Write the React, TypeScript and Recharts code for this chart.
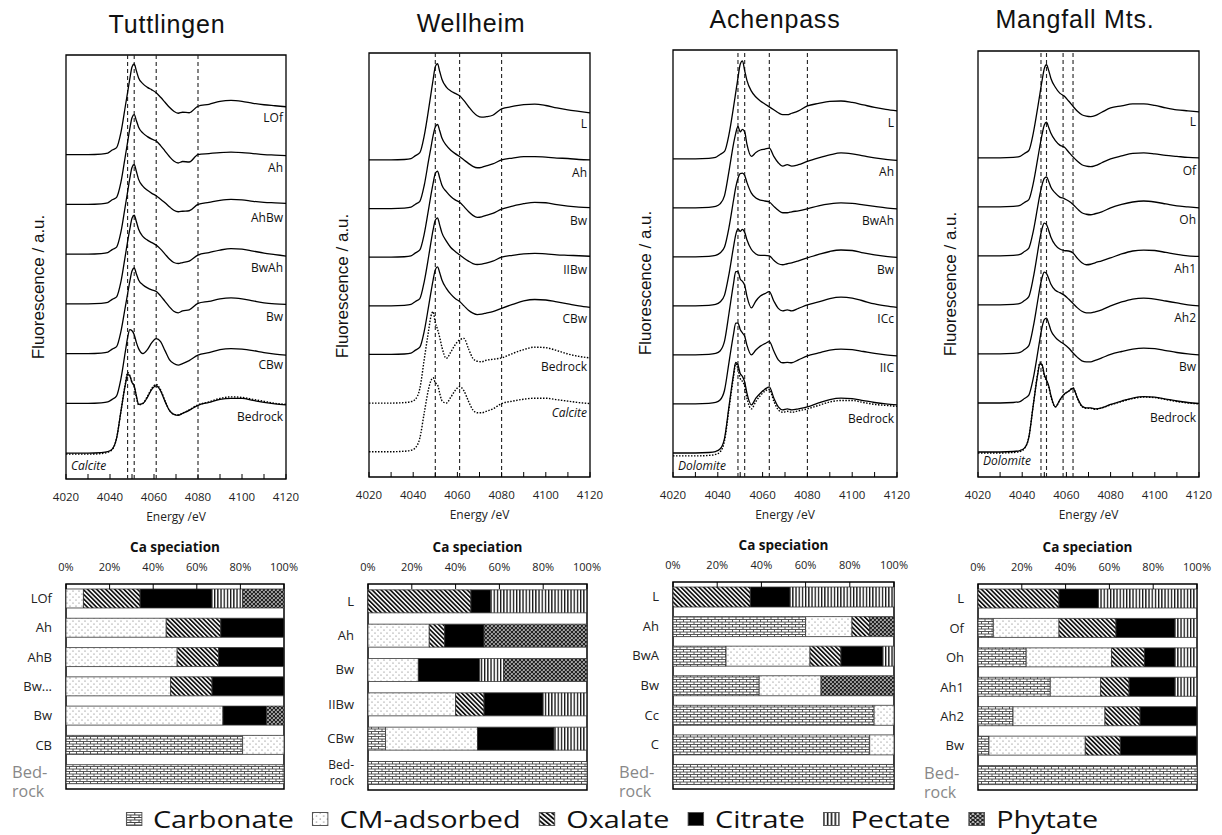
import React from 'react'
import { LineChart, Line, XAxis, YAxis, ReferenceLine, ReferenceArea, ReferenceDot, BarChart, Bar } from 'recharts'

const FONT = '"Open Sans", sans-serif'
const TITLE_FONT = '"Liberation Sans", Arial, sans-serif'

// energy grid of the XANES spectra (eV)
const ENERGY = [4020, 4030, 4036, 4039, 4041, 4043, 4045, 4047, 4048, 4049, 4050, 4051, 4052, 4053, 4055, 4057, 4059, 4061, 4063, 4065, 4067, 4069, 4071, 4073, 4076, 4080, 4085, 4090, 4095, 4100, 4105, 4110, 4115, 4120]
const ENERGY_TICKS = [4020, 4030, 4040, 4050, 4060, 4070, 4080, 4090, 4100, 4110, 4120]
const PCT_TICKS = [0, 20, 40, 60, 80, 100]

// Tuttlingen (normalised fluorescence)
const TUT_LOF = [0, 0, 0.01, 0.03, 0.09, 0.14, 0.45, 0.98, 1.25, 1.52, 1.76, 1.82, 1.68, 1.54, 1.42, 1.35, 1.3, 1.24, 1.15, 1.05, 0.95, 0.87, 0.83, 0.85, 0.84, 0.97, 1.01, 1.07, 1.09, 1.07, 1.03, 1.0, 0.98, 0.96]
const TUT_AH = [0, 0, 0.01, 0.03, 0.09, 0.14, 0.45, 0.98, 1.25, 1.52, 1.74, 1.8, 1.68, 1.55, 1.43, 1.36, 1.31, 1.27, 1.18, 1.07, 0.96, 0.87, 0.83, 0.86, 0.85, 1.0, 1.02, 1.04, 1.05, 1.04, 1.02, 1.0, 0.99, 0.98]
const TUT_AHBW = [0, 0, 0.01, 0.03, 0.09, 0.14, 0.45, 0.98, 1.25, 1.52, 1.74, 1.8, 1.66, 1.5, 1.36, 1.28, 1.22, 1.17, 1.1, 1.03, 0.95, 0.88, 0.85, 0.86, 0.87, 1.0, 1.04, 1.08, 1.1, 1.09, 1.06, 1.04, 1.03, 1.02]
const TUT_BWAH = [0, 0, 0.01, 0.03, 0.09, 0.14, 0.45, 0.98, 1.25, 1.5, 1.72, 1.78, 1.65, 1.5, 1.35, 1.28, 1.23, 1.18, 1.1, 1.0, 0.9, 0.83, 0.81, 0.83, 0.86, 0.98, 1.03, 1.08, 1.11, 1.1, 1.06, 1.02, 0.99, 0.96]
const TUT_BW = [0, 0, 0.01, 0.03, 0.09, 0.14, 0.45, 0.95, 1.2, 1.45, 1.66, 1.72, 1.6, 1.48, 1.38, 1.32, 1.28, 1.25, 1.16, 1.05, 0.94, 0.85, 0.82, 0.86, 0.88, 1.01, 1.05, 1.1, 1.12, 1.1, 1.06, 1.02, 1.0, 0.99]
const TUT_CBW = [0, 0, 0.01, 0.03, 0.08, 0.15, 0.5, 1.05, 1.32, 1.48, 1.46, 1.38, 1.22, 1.1, 1.0, 1.08, 1.22, 1.3, 1.24, 1.06, 0.88, 0.8, 0.77, 0.8, 0.86, 0.97, 1.02, 1.08, 1.1, 1.09, 1.06, 1.02, 0.99, 0.97]
const TUT_BEDROCK = [0, 0, 0.01, 0.03, 0.08, 0.3, 0.85, 1.38, 1.58, 1.55, 1.42, 1.35, 1.15, 0.98, 1.0, 1.12, 1.28, 1.35, 1.25, 1.04, 0.86, 0.78, 0.76, 0.8, 0.86, 0.96, 1.02, 1.08, 1.1, 1.1, 1.06, 1.02, 0.99, 0.97]
const TUT_CALCITE = [-0.02, -0.02, -0.01, 0.02, 0.07, 0.3, 0.85, 1.4, 1.62, 1.56, 1.42, 1.35, 1.12, 0.97, 1.0, 1.14, 1.3, 1.38, 1.27, 1.05, 0.86, 0.78, 0.77, 0.8, 0.87, 0.97, 1.03, 1.1, 1.13, 1.12, 1.08, 1.04, 1.0, 0.98]

// Wellheim
const WEL_L = [0, 0, 0.01, 0.03, 0.09, 0.15, 0.5, 1.05, 1.35, 1.65, 1.92, 1.98, 1.82, 1.66, 1.5, 1.42, 1.37, 1.32, 1.22, 1.1, 0.99, 0.91, 0.88, 0.89, 0.92, 1.05, 1.1, 1.14, 1.15, 1.12, 1.07, 1.03, 1.0, 0.97]
const WEL_AH = [0, 0, 0.01, 0.03, 0.09, 0.15, 0.48, 1.0, 1.25, 1.5, 1.68, 1.73, 1.6, 1.45, 1.3, 1.2, 1.13, 1.07, 1.0, 0.93, 0.87, 0.84, 0.85, 0.88, 0.92, 1.0, 1.04, 1.07, 1.07, 1.06, 1.04, 1.03, 1.01, 1.0]
const WEL_BW = [0, 0, 0.01, 0.03, 0.09, 0.15, 0.48, 1.0, 1.27, 1.52, 1.72, 1.77, 1.63, 1.48, 1.35, 1.25, 1.18, 1.13, 1.04, 0.94, 0.86, 0.82, 0.83, 0.86, 0.9, 0.99, 1.05, 1.1, 1.13, 1.12, 1.08, 1.05, 1.03, 1.02]
const WEL_IIBW = [0, 0, 0.01, 0.03, 0.09, 0.15, 0.5, 1.02, 1.3, 1.56, 1.76, 1.81, 1.66, 1.5, 1.33, 1.2, 1.12, 1.05, 0.98, 0.92, 0.87, 0.85, 0.86, 0.88, 0.92, 1.0, 1.04, 1.07, 1.08, 1.07, 1.05, 1.04, 1.03, 1.02]
const WEL_CBW = [0, 0, 0.01, 0.03, 0.09, 0.15, 0.48, 1.0, 1.27, 1.53, 1.74, 1.8, 1.68, 1.53, 1.36, 1.24, 1.15, 1.09, 1.0, 0.91, 0.85, 0.82, 0.83, 0.85, 0.88, 0.95, 1.03, 1.1, 1.13, 1.12, 1.08, 1.04, 1.0, 0.97]
const WEL_BEDROCK = [0, 0, 0.01, 0.03, 0.08, 0.3, 0.9, 1.5, 1.78, 1.88, 1.65, 1.52, 1.35, 1.15, 0.92, 1.05, 1.2, 1.3, 1.33, 1.12, 0.92, 0.86, 0.85, 0.88, 0.9, 0.93, 1.02, 1.1, 1.15, 1.14, 1.08, 1.01, 0.96, 0.93]
const WEL_CALCITE = [0, 0, 0.01, 0.03, 0.08, 0.28, 0.8, 1.3, 1.46, 1.52, 1.42, 1.38, 1.2, 1.05, 1.0, 1.12, 1.26, 1.34, 1.25, 1.04, 0.86, 0.8, 0.8, 0.83, 0.88, 0.99, 1.04, 1.08, 1.1, 1.1, 1.07, 1.04, 1.01, 0.99]

// Achenpass
const ACH_L = [0, 0, 0.01, 0.03, 0.09, 0.15, 0.5, 1.05, 1.35, 1.65, 1.93, 2.0, 1.8, 1.6, 1.38, 1.26, 1.18, 1.12, 1.06, 1.0, 0.94, 0.9, 0.9, 0.93, 0.98, 1.08, 1.13, 1.17, 1.18, 1.15, 1.1, 1.05, 1.01, 0.98]
const ACH_AH = [0, 0, 0.01, 0.03, 0.08, 0.25, 0.75, 1.3, 1.52, 1.66, 1.55, 1.6, 1.55, 1.3, 1.05, 1.13, 1.18, 1.2, 1.22, 1.05, 0.92, 0.85, 0.88, 0.85, 0.88, 0.95, 1.02, 1.08, 1.12, 1.1, 1.06, 1.02, 0.99, 0.97]
const ACH_BWAH = [0, 0, 0.01, 0.03, 0.08, 0.2, 0.6, 1.15, 1.42, 1.6, 1.7, 1.71, 1.66, 1.52, 1.3, 1.2, 1.16, 1.14, 1.12, 1.03, 0.95, 0.9, 0.9, 0.92, 0.94, 0.98, 1.04, 1.08, 1.1, 1.09, 1.06, 1.03, 1.0, 0.98]
const ACH_BW = [0, 0, 0.01, 0.03, 0.08, 0.22, 0.65, 1.2, 1.45, 1.57, 1.52, 1.56, 1.5, 1.35, 1.15, 1.06, 1.03, 1.03, 1.02, 0.93, 0.86, 0.84, 0.86, 0.88, 0.92, 0.98, 1.05, 1.11, 1.14, 1.13, 1.08, 1.04, 1.01, 0.99]
const ACH_ICC = [0, 0, 0.01, 0.03, 0.08, 0.28, 0.85, 1.45, 1.7, 1.7, 1.55, 1.5, 1.42, 1.2, 0.96, 1.1, 1.2, 1.25, 1.29, 1.1, 0.95, 0.9, 0.92, 0.9, 0.95, 1.02, 1.08, 1.15, 1.18, 1.16, 1.1, 1.04, 1.0, 0.97]
const ACH_IIC = [0, 0, 0.01, 0.03, 0.08, 0.28, 0.85, 1.42, 1.65, 1.65, 1.52, 1.45, 1.38, 1.2, 1.0, 1.1, 1.18, 1.23, 1.27, 1.08, 0.9, 0.84, 0.85, 0.84, 0.9, 0.98, 1.04, 1.1, 1.12, 1.11, 1.07, 1.03, 1.0, 0.98]
const ACH_BEDROCK = [0, 0, 0.01, 0.03, 0.08, 0.3, 0.95, 1.6, 1.85, 1.8, 1.62, 1.56, 1.45, 1.22, 0.98, 1.12, 1.22, 1.3, 1.35, 1.12, 0.94, 0.88, 0.9, 0.88, 0.9, 0.94, 1.02, 1.09, 1.12, 1.11, 1.07, 1.03, 1.0, 0.98]
const ACH_DOLOMITE = [-0.06, -0.06, -0.05, -0.03, 0.02, 0.25, 0.9, 1.55, 1.82, 1.72, 1.52, 1.46, 1.36, 1.12, 0.9, 1.05, 1.17, 1.26, 1.3, 1.06, 0.88, 0.83, 0.85, 0.83, 0.86, 0.9, 0.97, 1.04, 1.07, 1.07, 1.03, 0.99, 0.97, 0.95]

// Mangfall Mts.
const MAN_L = [0, 0, 0.01, 0.03, 0.09, 0.15, 0.5, 1.02, 1.3, 1.58, 1.82, 1.9, 1.78, 1.62, 1.44, 1.32, 1.26, 1.16, 1.05, 0.95, 0.88, 0.85, 0.84, 0.86, 0.93, 1.02, 1.06, 1.1, 1.1, 1.07, 1.02, 0.98, 0.96, 0.94]
const MAN_OF = [0, 0, 0.01, 0.03, 0.09, 0.15, 0.48, 0.98, 1.24, 1.48, 1.67, 1.73, 1.62, 1.5, 1.35, 1.26, 1.22, 1.12, 1.02, 0.93, 0.86, 0.83, 0.82, 0.84, 0.9, 0.98, 1.04, 1.09, 1.1, 1.08, 1.05, 1.03, 1.01, 1.0]
const MAN_OH = [0, 0, 0.01, 0.03, 0.09, 0.16, 0.5, 1.0, 1.25, 1.45, 1.58, 1.61, 1.52, 1.4, 1.28, 1.2, 1.17, 1.12, 1.05, 0.96, 0.88, 0.85, 0.84, 0.86, 0.9, 0.98, 1.05, 1.1, 1.12, 1.1, 1.06, 1.02, 1.0, 0.98]
const MAN_AH1 = [0, 0, 0.01, 0.03, 0.09, 0.17, 0.55, 1.08, 1.35, 1.56, 1.67, 1.64, 1.52, 1.38, 1.22, 1.14, 1.11, 1.1, 1.06, 0.95, 0.86, 0.82, 0.83, 0.86, 0.9, 0.96, 1.04, 1.1, 1.12, 1.11, 1.07, 1.03, 1.0, 0.99]
const MAN_AH2 = [0, 0, 0.01, 0.03, 0.09, 0.17, 0.55, 1.08, 1.35, 1.56, 1.67, 1.64, 1.54, 1.42, 1.3, 1.25, 1.2, 1.12, 1.03, 0.94, 0.87, 0.84, 0.84, 0.86, 0.9, 0.98, 1.06, 1.12, 1.14, 1.12, 1.08, 1.04, 1.0, 0.98]
const MAN_BW = [0, 0, 0.01, 0.03, 0.09, 0.16, 0.5, 1.02, 1.3, 1.55, 1.7, 1.73, 1.62, 1.48, 1.34, 1.26, 1.2, 1.12, 1.02, 0.93, 0.86, 0.84, 0.84, 0.87, 0.92, 0.99, 1.05, 1.1, 1.12, 1.11, 1.07, 1.03, 1.0, 0.98]
const MAN_BEDROCK = [0, 0, 0.01, 0.03, 0.08, 0.3, 0.95, 1.58, 1.8, 1.78, 1.58, 1.47, 1.35, 1.15, 0.92, 1.06, 1.18, 1.24, 1.3, 1.1, 0.94, 0.9, 0.9, 0.88, 0.9, 0.97, 1.04, 1.1, 1.13, 1.12, 1.08, 1.04, 1.01, 0.99]
const MAN_DOLOMITE = [-0.02, -0.02, -0.01, 0.01, 0.07, 0.3, 0.96, 1.6, 1.83, 1.76, 1.55, 1.45, 1.33, 1.13, 0.92, 1.05, 1.17, 1.24, 1.31, 1.09, 0.93, 0.89, 0.89, 0.87, 0.9, 0.96, 1.03, 1.09, 1.12, 1.11, 1.07, 1.03, 1.0, 0.98]

// Ca speciation (%), columns follow SPECIES
const SPECIES = ['Carbonate', 'CM-adsorbed', 'Oxalate', 'Citrate', 'Pectate', 'Phytate']
const PATTERN_IDS = ['carb', 'cm', 'oxa', 'cit', 'pec', 'phy']

const TUT_ROWS = ['LOf', 'Ah', 'AhB', 'Bw...', 'Bw', 'CB', 'Bed-rock']
const TUT_SPECIATION = [[0, 8, 26, 33, 14, 19], [0, 46, 25, 29, 0, 0], [0, 51, 19, 30, 0, 0], [0, 48, 19, 33, 0, 0], [0, 72, 0, 20, 0, 8], [81, 19, 0, 0, 0, 0], [100, 0, 0, 0, 0, 0]]
const WEL_ROWS = ['L', 'Ah', 'Bw', 'IIBw', 'CBw', 'Bed-rock']
const WEL_SPECIATION = [[0, 0, 47, 9, 44, 0], [0, 28, 7, 18, 0, 47], [0, 23, 0, 28, 11, 38], [0, 40, 13, 27, 20, 0], [8, 42, 0, 35, 15, 0], [100, 0, 0, 0, 0, 0]]
const ACH_ROWS = ['L', 'Ah', 'BwA', 'Bw', 'Cc', 'C', 'Bed-rock']
const ACH_SPECIATION = [[0, 0, 35, 18, 47, 0], [60, 21, 8, 0, 0, 11], [24, 38, 14, 19, 5, 0], [39, 28, 0, 0, 0, 33], [91, 9, 0, 0, 0, 0], [89, 11, 0, 0, 0, 0], [100, 0, 0, 0, 0, 0]]
const MAN_ROWS = ['L', 'Of', 'Oh', 'Ah1', 'Ah2', 'Bw', 'Bed-rock']
const MAN_SPECIATION = [[0, 0, 37, 18, 45, 0], [7, 30, 26, 27, 10, 0], [22, 39, 15, 14, 10, 0], [33, 23, 13, 21, 10, 0], [16, 42, 16, 26, 0, 0], [5, 44, 16, 35, 0, 0], [100, 0, 0, 0, 0, 0]]

const XANES_PANELS = [
    {
        title: 'Tuttlingen', titleX: 167, titleY: 33, yLabelX: 38, yLabelY: 287,
        left: 66, top: 55, width: 220, height: 424, yDomain: [-0.52, 8.0],
        dashes: [4048, 4051, 4061, 4080],
        traces: [
            { v: TUT_LOF, off: 6 }, { v: TUT_AH, off: 5 }, { v: TUT_AHBW, off: 4 }, { v: TUT_BWAH, off: 3 },
            { v: TUT_BW, off: 2 }, { v: TUT_CBW, off: 1 }, { v: TUT_CALCITE, off: 0, dotted: true }, { v: TUT_BEDROCK, off: 0 },
        ],
        labels: [
            { text: 'LOf', y: 6.73 }, { text: 'Ah', y: 5.73 }, { text: 'AhBw', y: 4.73 }, { text: 'BwAh', y: 3.73 },
            { text: 'Bw', y: 2.73 }, { text: 'CBw', y: 1.77 }, { text: 'Bedrock', y: 0.73 }, { text: 'Calcite', y: -0.25, italic: true, left: true },
        ],
    },
    {
        title: 'Wellheim', titleX: 471, titleY: 32, yLabelX: 342, yLabelY: 286,
        left: 369, top: 53, width: 221, height: 424, yDomain: [-0.52, 8.2],
        dashes: [4050, 4061, 4080],
        traces: [
            { v: WEL_L, off: 6 }, { v: WEL_AH, off: 5 }, { v: WEL_BW, off: 4 }, { v: WEL_IIBW, off: 3 },
            { v: WEL_CBW, off: 2 }, { v: WEL_BEDROCK, off: 1, dotted: true }, { v: WEL_CALCITE, off: 0, dotted: true },
        ],
        labels: [
            { text: 'L', y: 6.74 }, { text: 'Ah', y: 5.74 }, { text: 'Bw', y: 4.74 }, { text: 'IIBw', y: 3.74 },
            { text: 'CBw', y: 2.74 }, { text: 'Bedrock', y: 1.74 }, { text: 'Calcite', y: 0.8, italic: true },
        ],
    },
    {
        title: 'Achenpass', titleX: 775, titleY: 28, yLabelX: 645, yLabelY: 283,
        left: 673, top: 50, width: 224, height: 427, yDomain: [-0.49, 8.22],
        dashes: [4049, 4052, 4063, 4080],
        traces: [
            { v: ACH_L, off: 6 }, { v: ACH_AH, off: 5 }, { v: ACH_BWAH, off: 4 }, { v: ACH_BW, off: 3 },
            { v: ACH_ICC, off: 2 }, { v: ACH_IIC, off: 1 }, { v: ACH_DOLOMITE, off: 0, dotted: true }, { v: ACH_BEDROCK, off: 0 },
        ],
        labels: [
            { text: 'L', y: 6.74 }, { text: 'Ah', y: 5.74 }, { text: 'BwAh', y: 4.74 }, { text: 'Bw', y: 3.74 },
            { text: 'ICc', y: 2.74 }, { text: 'IIC', y: 1.74 }, { text: 'Bedrock', y: 0.7 }, { text: 'Dolomite', y: -0.27, italic: true, left: true },
        ],
    },
    {
        title: 'Mangfall Mts.', titleX: 1075, titleY: 28, yLabelX: 950, yLabelY: 284,
        left: 978, top: 51, width: 221, height: 426, yDomain: [-0.51, 8.18],
        dashes: [4048.5, 4051, 4058.5, 4063],
        traces: [
            { v: MAN_L, off: 6 }, { v: MAN_OF, off: 5 }, { v: MAN_OH, off: 4 }, { v: MAN_AH1, off: 3 },
            { v: MAN_AH2, off: 2 }, { v: MAN_BW, off: 1 }, { v: MAN_DOLOMITE, off: 0, dotted: true }, { v: MAN_BEDROCK, off: 0 },
        ],
        labels: [
            { text: 'L', y: 6.74 }, { text: 'Of', y: 5.74 }, { text: 'Oh', y: 4.74 }, { text: 'Ah1', y: 3.74 },
            { text: 'Ah2', y: 2.74 }, { text: 'Bw', y: 1.74 }, { text: 'Bedrock', y: 0.7 }, { text: 'Dolomite', y: -0.17, italic: true, left: true },
        ],
    },
]

const BAR_PANELS = [
    { rows: TUT_ROWS, values: TUT_SPECIATION, left: 66, top: 584, width: 218, height: 205, bigBed: true },
    { rows: WEL_ROWS, values: WEL_SPECIATION, left: 368, top: 584, width: 219, height: 206, bigBed: false },
    { rows: ACH_ROWS, values: ACH_SPECIATION, left: 673, top: 582, width: 221, height: 207, bigBed: true },
    { rows: MAN_ROWS, values: MAN_SPECIATION, left: 978, top: 584, width: 219, height: 206, bigBed: true },
]

function XanesPanel({ p }: { p: any }) {
    const data = ENERGY.map((e, i) => {
        const row: Record<string, number> = { e }
        p.traces.forEach((t: any, k: number) => {
            row['s' + k] = +(t.v[i] + t.off).toFixed(3)
        })
        return row
    })

    return (
        <div style={{ position: 'absolute', left: p.left - 20, top: p.top - 5 }}>
            <LineChart width={p.width + 40} height={p.height + 55} data={data} margin={{ top: 5, right: 20, bottom: 0, left: 20 }}>
                <XAxis
                    dataKey="e"
                    type="number"
                    domain={[4020, 4120]}
                    ticks={ENERGY_TICKS}
                    interval={0}
                    tickFormatter={(v: number) => (v % 20 === 0 ? String(v) : '')}
                    height={50}
                    axisLine={false}
                    tickSize={-5}
                    tickMargin={19}
                    tickLine={{ stroke: '#000' }}
                    tick={{ fontSize: 11.5, fill: '#222', fontFamily: FONT }}
                    label={{ value: 'Energy /eV', position: 'insideBottom', offset: 8, style: { fontSize: 12, fill: '#222', fontFamily: FONT } }}
                />
                <YAxis type="number" domain={p.yDomain} hide allowDataOverflow />
                <ReferenceArea x1={4020} x2={4120} fill="none" stroke="#000" strokeWidth={1.3} />
                {p.dashes.map((d: number) => (
                    <ReferenceLine key={d} x={d} stroke="#222" strokeWidth={1.1} strokeDasharray="4 3" />
                ))}
                {p.traces.map((t: any, k: number) => (
                    <Line
                        key={k}
                        dataKey={'s' + k}
                        type="monotone"
                        dot={false}
                        stroke="#000"
                        strokeWidth={t.dotted ? 1.4 : 1.3}
                        strokeDasharray={t.dotted ? '1.5 1.5' : undefined}
                        isAnimationActive={false}
                    />
                ))}
                {p.labels.map((l: any, k: number) => (
                    <ReferenceDot
                        key={'lab' + k}
                        x={l.left ? 4020 : 4120}
                        y={l.y}
                        r={0}
                        ifOverflow="visible"
                        shape={(sp: any) => (
                            <text
                                x={l.left ? sp.cx + 5 : sp.cx - 3}
                                y={sp.cy}
                                dy="0.35em"
                                textAnchor={l.left ? 'start' : 'end'}
                                fontSize={12}
                                fontStyle={l.italic ? 'italic' : 'normal'}
                                fontFamily={FONT}
                                fill="#111"
                            >
                                {l.text}
                            </text>
                        )}
                    />
                ))}
            </LineChart>
        </div>
    )
}

const renderCategoryTick = (tp: any, bigBed: boolean) => {
    const { x, y, payload } = tp
    if (payload.value === 'Bed-rock') {
        if (bigBed) {
            return (
                <g>
                    <text x={x - 40} y={y + 4} fontSize={16.5} fill="#888" fontFamily={FONT} textAnchor="start">Bed-</text>
                    <text x={x - 40} y={y + 23} fontSize={16} fill="#888" fontFamily={FONT} textAnchor="start">rock</text>
                </g>
            )
        }
        return (
            <g>
                <text x={x} y={y - 4} fontSize={12} fill="#222" fontFamily={FONT} textAnchor="end">Bed-</text>
                <text x={x} y={y + 12} fontSize={12} fill="#222" fontFamily={FONT} textAnchor="end">rock</text>
            </g>
        )
    }
    return (
        <text x={x} y={y} dy="0.35em" fontSize={13} fill="#222" fontFamily={FONT} textAnchor="end">
            {payload.value}
        </text>
    )
}

function SpeciationPanel({ p }: { p: any }) {
    const data = p.rows.map((name: string, i: number) => {
        const row: Record<string, any> = { name }
        SPECIES.forEach((s, k) => {
            row[s] = p.values[i][k]
        })
        return row
    })

    return (
        <div style={{ position: 'absolute', left: p.left - 60, top: p.top - 48 }}>
            <BarChart
                layout="vertical"
                width={p.width + 85}
                height={p.height + 78}
                data={data}
                margin={{ top: 0, right: 25, bottom: 30, left: 0 }}
                barCategoryGap="17%"
            >
                <XAxis
                    type="number"
                    orientation="top"
                    domain={[0, 100]}
                    ticks={PCT_TICKS}
                    interval={0}
                    allowDataOverflow
                    tickFormatter={(v: number) => v + '%'}
                    height={48}
                    axisLine={false}
                    tickSize={-5}
                    tickMargin={18}
                    tickLine={{ stroke: '#000' }}
                    tick={{ fontSize: 11, fill: '#222', fontFamily: FONT }}
                    label={{ value: 'Ca speciation', position: 'insideTop', offset: 6, style: { fontSize: 13.5, fontWeight: 700, fill: '#111', fontFamily: FONT } }}
                />
                <YAxis
                    type="category"
                    dataKey="name"
                    width={60}
                    axisLine={false}
                    tickLine={false}
                    tickMargin={8}
                    interval={0}
                    tick={(tp: any) => renderCategoryTick(tp, p.bigBed)}
                />
                {SPECIES.map((s, k) => (
                    <Bar
                        key={s}
                        dataKey={s}
                        stackId="ca"
                        fill={`url(#pat-${PATTERN_IDS[k]})`}
                        stroke="#333"
                        strokeWidth={0.8}
                        isAnimationActive={false}
                    />
                ))}
                <ReferenceArea x1={0} x2={100} fill="none" stroke="#000" strokeWidth={1.5} />
            </BarChart>
        </div>
    )
}

function PatternDefs() {
    return (
        <svg width={0} height={0} style={{ position: 'absolute' }}>
            <defs>
                <pattern id="pat-carb" width={7} height={5} patternUnits="userSpaceOnUse">
                    <rect width={7} height={5} fill="#fff" />
                    <path d="M0 0.5H7M0 3H7M0.5 0.5V3M4 3V5.5" stroke="#444" strokeWidth={0.9} fill="none" />
                </pattern>
                <pattern id="pat-cm" width={6} height={6} patternUnits="userSpaceOnUse">
                    <rect width={6} height={6} fill="#fff" />
                    <circle cx={1} cy={1} r={0.6} fill="#666" />
                    <circle cx={4} cy={4} r={0.6} fill="#666" />
                </pattern>
                <pattern id="pat-oxa" width={3.2} height={3.2} patternUnits="userSpaceOnUse" patternTransform="rotate(-45)">
                    <rect width={3.2} height={3.2} fill="#fff" />
                    <rect width={1.7} height={3.2} fill="#111" />
                </pattern>
                <pattern id="pat-cit" width={4} height={4} patternUnits="userSpaceOnUse">
                    <rect width={4} height={4} fill="#000" />
                </pattern>
                <pattern id="pat-pec" width={3.2} height={4} patternUnits="userSpaceOnUse">
                    <rect width={3.2} height={4} fill="#fff" />
                    <rect width={1.3} height={4} fill="#111" />
                </pattern>
                <pattern id="pat-phy" width={4} height={4} patternUnits="userSpaceOnUse">
                    <rect width={4} height={4} fill="#fff" />
                    <path d="M0 0L4 4M4 0L0 4M-1 3L1 5M3 -1L5 1M-1 1L1 -1M3 5L5 3" stroke="#222" strokeWidth={1.4} />
                </pattern>
            </defs>
        </svg>
    )
}

export default function App() {
    return (
        <div style={{ position: 'absolute', left: 0, top: 0, width: 1222, height: 835, background: '#fff', overflow: 'hidden' }}>
            <PatternDefs />
            <svg width={1222} height={120} style={{ position: 'absolute', left: 0, top: 0 }}>
                {XANES_PANELS.map((p) => (
                    <text key={p.title} x={p.titleX} y={p.titleY} textAnchor="middle" fontSize={25} letterSpacing={0.8} fontFamily={TITLE_FONT} fill="#111">
                        {p.title}
                    </text>
                ))}
            </svg>
            {XANES_PANELS.map((p) => (
                <XanesPanel key={p.title} p={p} />
            ))}
            <svg width={1222} height={500} style={{ position: 'absolute', left: 0, top: 0, pointerEvents: 'none' }}>
                {XANES_PANELS.map((p) => (
                    <text
                        key={p.title}
                        transform={`translate(${p.yLabelX},${p.yLabelY}) rotate(-90)`}
                        dy="0.35em"
                        textAnchor="middle"
                        fontSize={17}
                        fontFamily={TITLE_FONT}
                        fill="#111"
                    >
                        Fluorescence / a.u.
                    </text>
                ))}
            </svg>
            {BAR_PANELS.map((p, i) => (
                <SpeciationPanel key={i} p={p} />
            ))}
            <div
                style={{
                    position: 'absolute',
                    left: 0,
                    top: 806,
                    width: 1222,
                    height: 26,
                    display: 'flex',
                    justifyContent: 'center',
                    alignItems: 'center',
                    fontFamily: FONT,
                    fontSize: 24,
                    lineHeight: '26px',
                    color: '#111',
                    transform: 'scaleX(1.2)',
                    transformOrigin: '607px 0',
                    whiteSpace: 'nowrap',
                }}
            >
                {SPECIES.map((s, k) => (
                    <span key={s} style={{ display: 'flex', alignItems: 'center', marginLeft: k ? 15 : 0 }}>
                        <svg width={14} height={14} style={{ marginRight: 9 }}>
                            <rect x={0.5} y={0.5} width={13} height={13} fill={`url(#pat-${PATTERN_IDS[k]})`} stroke="#555" />
                        </svg>
                        {s}
                    </span>
                ))}
            </div>
        </div>
    )
}
